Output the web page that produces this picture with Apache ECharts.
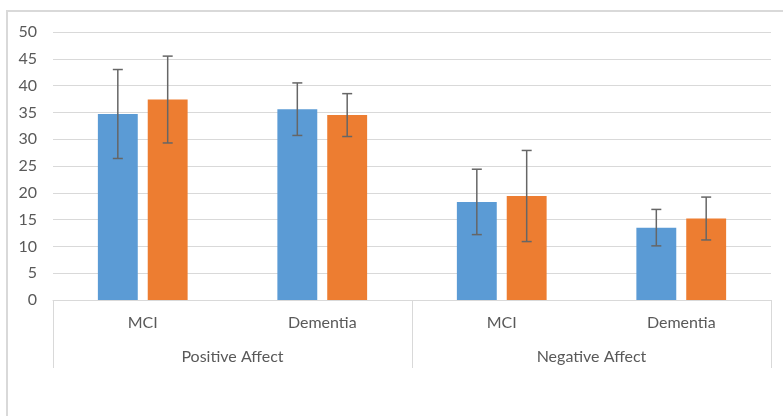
<!DOCTYPE html>
<html>
<head>
<meta charset="utf-8">
<script src="https://cdn.jsdelivr.net/npm/echarts@6/dist/echarts.min.js"></script>
<style>
html,body{margin:0;padding:0;background:#fff;}
#chart{width:783px;height:416px;}
</style>
</head>
<body>
<div id="chart"></div>
<script>
var categories = ['MCI', 'Dementia', 'MCI', 'Dementia'];
var groups = ['Positive Affect', 'Negative Affect'];
var series1Mean = [34.7, 35.6, 18.3, 13.5];
var series1Err = [8.3, 4.9, 6.1, 3.4];
var series2Mean = [37.4, 34.5, 19.4, 15.2];
var series2Err = [8.1, 4.0, 8.5, 4.0];
var yTicks = [0, 5, 10, 15, 20, 25, 30, 35, 40, 45, 50];

var chart = echarts.init(document.getElementById('chart'));
var font = 'Lato, "Open Sans", sans-serif';
var textColor = '#595959';
var gridColor = '#d9d9d9';

function errData(mean, err) {
  return mean.map(function (m, i) { return [i, m, err[i]]; });
}
function errRender(sign) {
  return function (params, api) {
    var idx = api.value(0), m = api.value(1), e = api.value(2);
    var band = api.size([1, 0])[0];
    var off = sign * band * 0.5 / 2.25 * 1.25 / 2;
    var top = api.coord([idx, m + e]);
    var bot = api.coord([idx, m - e]);
    var x = top[0] + off;
    var cap = 5;
    var style = { stroke: '#666666', lineWidth: 1.5 };
    return {
      type: 'group',
      children: [
        { type: 'line', shape: { x1: x, y1: top[1], x2: x, y2: bot[1] }, style: style },
        { type: 'line', shape: { x1: x - cap, y1: top[1], x2: x + cap, y2: top[1] }, style: style },
        { type: 'line', shape: { x1: x - cap, y1: bot[1], x2: x + cap, y2: bot[1] }, style: style }
      ]
    };
  };
}

chart.setOption({
  animation: false,
  backgroundColor: '#ffffff',
  textStyle: { fontFamily: font },
  graphic: [{
    type: 'rect',
    shape: { x: 7, y: 11, width: 800, height: 420 },
    style: { fill: 'none', stroke: '#d9d9d9', lineWidth: 2 },
    silent: true
  }],
  grid: { left: 53, right: 12, top: 32, bottom: 116 },
  xAxis: [{
    type: 'category',
    data: categories,
    position: 'bottom',
    axisLine: { show: true, lineStyle: { color: gridColor, width: 1 } },
    axisTick: { show: false },
    axisLabel: { color: textColor, fontSize: 16, fontFamily: font, margin: 15 }
  }, {
    type: 'category',
    data: groups,
    position: 'bottom',
    axisLine: { show: false },
    axisTick: { show: true, length: 68, lineStyle: { color: gridColor, width: 1 } },
    axisLabel: { color: textColor, fontSize: 16, fontFamily: font, margin: 49 }
  }],
  yAxis: {
    type: 'value',
    min: yTicks[0],
    max: yTicks[yTicks.length - 1],
    interval: 5,
    axisLine: { show: false },
    axisTick: { show: false },
    splitLine: { lineStyle: { color: gridColor, width: 1 } },
    axisLabel: { color: textColor, fontSize: 16, fontFamily: font, margin: 16 }
  },
  series: [{
    name: 'Series 1',
    type: 'bar',
    xAxisIndex: 0,
    data: series1Mean,
    barCategoryGap: '50%',
    barGap: '25%',
    itemStyle: { color: '#5B9BD5' }
  }, {
    name: 'Series 2',
    type: 'bar',
    xAxisIndex: 0,
    data: series2Mean,
    barCategoryGap: '50%',
    barGap: '25%',
    itemStyle: { color: '#ED7D31' }
  }, {
    type: 'custom',
    xAxisIndex: 0,
    renderItem: errRender(-1),
    data: errData(series1Mean, series1Err),
    encode: { x: 0, y: 1 },
    z: 10
  }, {
    type: 'custom',
    xAxisIndex: 0,
    renderItem: errRender(1),
    data: errData(series2Mean, series2Err),
    encode: { x: 0, y: 1 },
    z: 10
  }]
});
</script>
</body>
</html>
